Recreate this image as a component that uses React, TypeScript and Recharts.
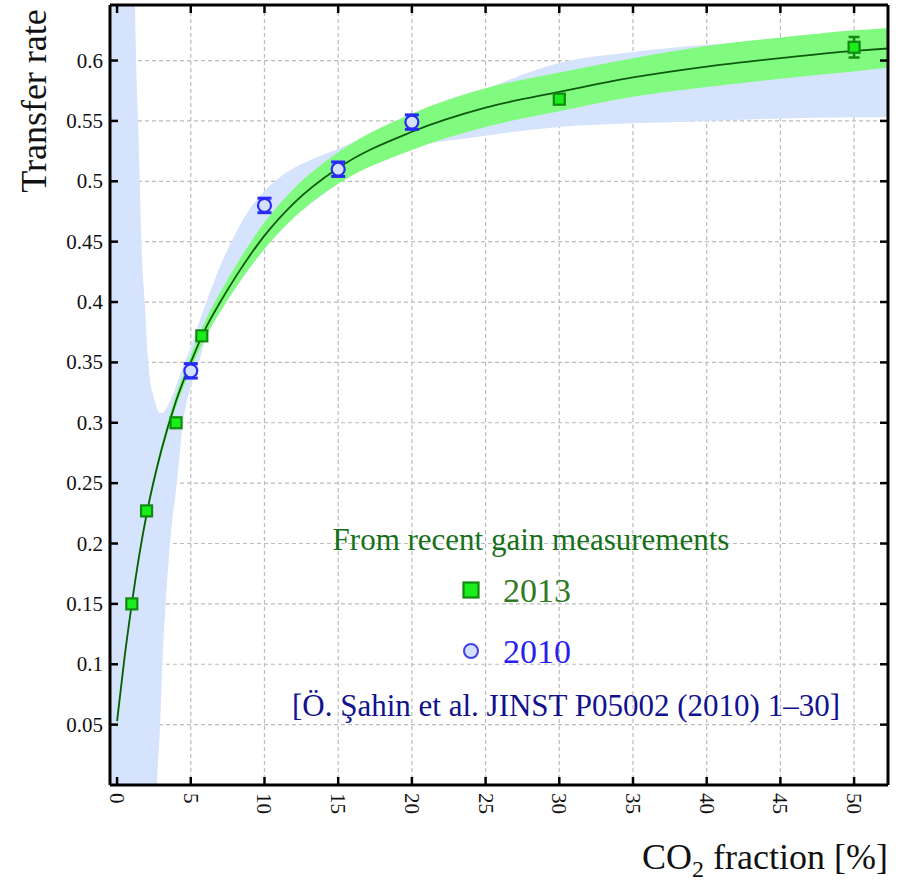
import React from 'react';
import { ComposedChart, XAxis, YAxis, CartesianGrid, Area, Line, Scatter, ErrorBar } from 'recharts';

const W = 898;
const H = 881;
const FONT = '"Liberation Serif", "Times New Roman", serif';

// axis ticks
const xTicks = [0, 5, 10, 15, 20, 25, 30, 35, 40, 45, 50];
const yTicks = [0.05, 0.1, 0.15, 0.2, 0.25, 0.3, 0.35, 0.4, 0.45, 0.5, 0.55, 0.6];
const yTickLabels = ['0.05', '0.1', '0.15', '0.2', '0.25', '0.3', '0.35', '0.4', '0.45', '0.5', '0.55', '0.6'];

// fitted curve and its (green) uncertainty band
const fitX = [0, 0.5, 1, 1.5, 2, 3, 4, 5, 6, 7, 8, 10, 12, 15, 20, 25, 30, 35, 40, 45, 50, 52.3];
const fitY = [0.053, 0.105, 0.15, 0.19, 0.224, 0.277, 0.318, 0.35, 0.378, 0.4, 0.42, 0.455, 0.482, 0.511, 0.541, 0.561, 0.574, 0.586, 0.595, 0.602, 0.608, 0.61];
const greenLo = [0.044, 0.099, 0.145, 0.186, 0.22, 0.273, 0.313, 0.344, 0.371, 0.392, 0.411, 0.444, 0.47, 0.498, 0.526, 0.545, 0.558, 0.57, 0.578, 0.585, 0.591, 0.594];
const greenHi = [0.06, 0.109, 0.155, 0.194, 0.228, 0.281, 0.323, 0.356, 0.385, 0.408, 0.429, 0.466, 0.494, 0.524, 0.556, 0.577, 0.59, 0.602, 0.612, 0.619, 0.625, 0.627];

// older (2010) fit band, light blue
const blueX = [-0.5, 0, 0.5, 1.0, 1.2, 1.3, 1.42, 1.54, 1.65, 1.88, 2.1, 2.4, 2.56, 2.71, 2.92, 3.07, 3.3, 3.59, 4.05, 4.47, 5.0, 5.56, 6.0, 7.0, 8.0, 9.0, 10, 11, 12, 13, 15, 20, 24, 30, 35, 40, 45, 50, 52.3];
const blueHi = [1.3, 1.25, 1.1, 0.8, 0.655, 0.595, 0.55, 0.5, 0.45, 0.4, 0.352, 0.325, 0.318, 0.312, 0.308, 0.308, 0.311, 0.318, 0.332, 0.347, 0.363, 0.383, 0.398, 0.43, 0.456, 0.477, 0.492, 0.503, 0.511, 0.517, 0.527, 0.555, 0.572, 0.598, 0.607, 0.613, 0.617, 0.62, 0.621];
const blueLo = [-0.9, -0.85, -0.8, -0.7, -0.65, -0.6, -0.55, -0.5, -0.45, -0.4, -0.3, -0.15, -0.07, 0.0, 0.05, 0.1, 0.15, 0.2, 0.25, 0.3, 0.33, 0.35, 0.37, 0.392, 0.411, 0.428, 0.444, 0.458, 0.47, 0.48, 0.498, 0.528, 0.536, 0.545, 0.548, 0.55, 0.552, 0.553, 0.553];

// measurements
const m2013X = [1, 2, 4, 5.75, 30, 50];
const m2013Y = [0.15, 0.227, 0.3, 0.372, 0.568, 0.611];
const m2013Err = [0.002, 0.002, 0.002, 0.002, 0.004, 0.0085];
const m2010X = [5, 10, 15, 20];
const m2010Y = [0.343, 0.48, 0.51, 0.549];
const m2010Err = [0.006, 0.006, 0.006, 0.006];

const fitData = fitX.map((x, i) => ({ x, y: fitY[i], band: [greenLo[i], greenHi[i]] }));
const blueData = blueX.map((x, i) => ({ x, band: [blueLo[i], blueHi[i]] }));
const d2013 = m2013X.map((x, i) => ({ x, y: m2013Y[i], err: m2013Err[i] }));
const d2010 = m2010X.map((x, i) => ({ x, y: m2010Y[i], err: m2010Err[i] }));

const TICK = 8;

const LeftTick = (p: any) => {
  const label = yTickLabels[yTicks.indexOf(p.payload.value)];
  return (
    <g>
      <line x1={p.x} x2={p.x + TICK} y1={p.y} y2={p.y} stroke="#000" strokeWidth={2.5} />
      <text x={p.x - 7} y={p.y} textAnchor="end" dominantBaseline="central" fontFamily={FONT} fontSize={21} fill="#111">
        {label}
      </text>
    </g>
  );
};

const RightTick = (p: any) => (
  <line x1={p.x} x2={p.x - TICK} y1={p.y} y2={p.y} stroke="#000" strokeWidth={2.5} />
);

const TopTick = (p: any) => (
  <line x1={p.x} x2={p.x} y1={p.y} y2={p.y + TICK} stroke="#000" strokeWidth={2.5} />
);

const BottomTick = (p: any) => (
  <g>
    <line x1={p.x} x2={p.x} y1={p.y} y2={p.y - TICK} stroke="#000" strokeWidth={2.5} />
    <text
      transform={`translate(${p.x}, ${p.y + 8}) rotate(90)`}
      textAnchor="start"
      dominantBaseline="central"
      fontFamily={FONT}
      fontSize={21}
      fill="#111"
    >
      {p.payload.value}
    </text>
  </g>
);

const Square = (p: any) => (
  <rect x={p.cx - 5.5} y={p.cy - 5.5} width={11} height={11} fill="#1aee1a" stroke="#128a12" strokeWidth={2.2} />
);

const Circle = (p: any) => (
  <circle cx={p.cx} cy={p.cy} r={6.5} fill="#d4e0fc" stroke="#2a2af5" strokeWidth={2.2} />
);

const Nothing = () => <g />;

const axisLine = { stroke: '#000', strokeWidth: 3 };

export default function App() {
  return (
    <div style={{ position: 'absolute', left: 0, top: 0, width: W, height: H, background: '#fff' }}>
      <ComposedChart width={W} height={H} margin={{ top: 0, right: 0, bottom: 0, left: 0 }}>
        <CartesianGrid stroke="#bcbcbc" strokeDasharray="4 3" strokeWidth={1.2} />
        <XAxis
          type="number"
          dataKey="x"
          domain={[-0.48, 52.3]}
          ticks={xTicks}
          allowDataOverflow
          height={96}
          axisLine={axisLine}
          tickLine={false}
          tickSize={0}
          tickMargin={0}
          tick={BottomTick}
          interval={0}
        />
        <XAxis
          xAxisId="top"
          orientation="top"
          type="number"
          dataKey="x"
          domain={[-0.48, 52.3]}
          ticks={xTicks}
          allowDataOverflow
          height={5}
          axisLine={axisLine}
          tickLine={false}
          tickSize={0}
          tickMargin={0}
          tick={TopTick}
          interval={0}
        />
        <YAxis
          type="number"
          domain={[0, 0.646]}
          ticks={yTicks}
          allowDataOverflow
          width={110}
          axisLine={axisLine}
          tickLine={false}
          tickSize={0}
          tickMargin={0}
          tick={LeftTick}
          interval={0}
        />
        <YAxis
          yAxisId="right"
          orientation="right"
          type="number"
          domain={[0, 0.646]}
          ticks={yTicks}
          allowDataOverflow
          width={10}
          axisLine={axisLine}
          tickLine={false}
          tickSize={0}
          tickMargin={0}
          tick={RightTick}
          interval={0}
        />
        <Area data={blueData} dataKey="band" type="monotone" fill="#d6e3fc" fillOpacity={1} stroke="none" isAnimationActive={false} />
        <Area data={fitData} dataKey="band" type="monotone" fill="#80fb80" fillOpacity={1} stroke="none" isAnimationActive={false} />
        <Line data={fitData} dataKey="y" type="monotone" stroke="#0d5a0d" strokeWidth={1.8} dot={false} isAnimationActive={false} />
        {/* error bars first, markers drawn over them */}
        <Scatter data={d2013} dataKey="y" shape={Nothing} isAnimationActive={false}>
          <ErrorBar dataKey="err" direction="y" width={5.5} stroke="#128a12" strokeWidth={2.5} isAnimationActive={false} />
        </Scatter>
        <Scatter data={d2010} dataKey="y" shape={Nothing} isAnimationActive={false}>
          <ErrorBar dataKey="err" direction="y" width={7} stroke="#2a2af5" strokeWidth={3} isAnimationActive={false} />
        </Scatter>
        <Scatter data={d2013} dataKey="y" shape={Square} isAnimationActive={false} />
        <Scatter data={d2010} dataKey="y" shape={Circle} isAnimationActive={false} />
      </ComposedChart>

      <svg width={W} height={H} style={{ position: 'absolute', left: 0, top: 0, pointerEvents: 'none' }}>
        <text transform="translate(46, 101) rotate(-90)" textAnchor="middle" fontFamily={FONT} fontSize={36} fill="#111">
          Transfer rate
        </text>
        <text x={888} y={869} textAnchor="end" fontFamily={FONT} fontSize={36} fill="#111">
          <tspan>CO</tspan>
          <tspan fontSize={24} dy={8}>2</tspan>
          <tspan dy={-8}> fraction [%]</tspan>
        </text>
        <text x={531} y={550} textAnchor="middle" fontFamily={FONT} fontSize={31} fill="#16701a">
          From recent gain measurements
        </text>
        <rect x={463.5} y={582.5} width={15} height={15} fill="#1aee1a" stroke="#128a12" strokeWidth={2.2} />
        <text x={503} y={602} fontFamily={FONT} fontSize={34} fill="#2f7a1e">
          2013
        </text>
        <circle cx={471} cy={651} r={7} fill="#d4e0fc" stroke="#4040ee" strokeWidth={2} />
        <text x={503} y={663} fontFamily={FONT} fontSize={34} fill="#2a1ff0">
          2010
        </text>
        <text x={566} y={716} textAnchor="middle" fontFamily={FONT} fontSize={31} fill="#12128f">
          [Ö. Şahin et al. JINST P05002 (2010) 1–30]
        </text>
      </svg>
    </div>
  );
}
